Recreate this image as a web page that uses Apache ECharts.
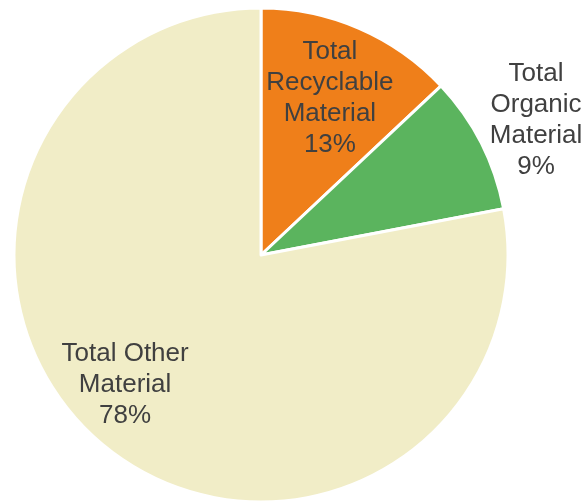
<!DOCTYPE html>
<html>
<head>
<meta charset="utf-8">
<style>
  html, body { margin: 0; padding: 0; background: #ffffff; }
  #chart { width: 587px; height: 501px; }
</style>
<script src="https://cdn.jsdelivr.net/npm/echarts@6/dist/echarts.min.js"></script>
</head>
<body>
<div id="chart"></div>
<script>
// Waste composition shares (percent)
const categories = ['Total Recyclable Material', 'Total Organic Material', 'Total Other Material'];
const labelTexts = ['Total\nRecyclable\nMaterial', 'Total\nOrganic\nMaterial', 'Total Other\nMaterial'];
const values = [13, 9, 78];
const colors = ['#EF7F1A', '#5BB45E', '#F1EDC7'];

// Label placement: distance from centre as a fraction of the radius, and a small angular shift (degrees)
const labelRadiusFrac = [0.694, 1.24, 0.761];
const labelAngleShift = [0.3, 0.9, 6.7];

const CX = 261, CY = 255, R = 247;

const chart = echarts.init(document.getElementById('chart'), null, { renderer: 'canvas' });

chart.setOption({
  animation: false,
  series: [{
    type: 'pie',
    center: [CX, CY],
    radius: [0, R],
    startAngle: 90,
    clockwise: true,
    silent: true,
    itemStyle: { borderColor: '#ffffff', borderWidth: 3 },
    label: {
      show: true,
      position: 'inside',
      fontFamily: "'Liberation Sans', Arial, sans-serif",
      fontSize: 26,
      lineHeight: 31,
      color: '#404040',
      align: 'center',
      formatter: function (p) {
        return labelTexts[p.dataIndex] + '\n' + p.value + '%';
      }
    },
    labelLine: { show: false },
    labelLayout: function (p) {
      const r = p.labelRect;
      const dx = r.x + r.width / 2 - CX;
      const dy = r.y + r.height / 2 - CY;
      const i = p.dataIndex;
      const theta = Math.atan2(dx, -dy) + labelAngleShift[i] * Math.PI / 180;
      const d = R * labelRadiusFrac[i];
      return { x: CX + d * Math.sin(theta), y: CY - d * Math.cos(theta) };
    },
    data: categories.map(function (name, i) {
      return { name: name, value: values[i], itemStyle: { color: colors[i] } };
    })
  }]
});
</script>
</body>
</html>
